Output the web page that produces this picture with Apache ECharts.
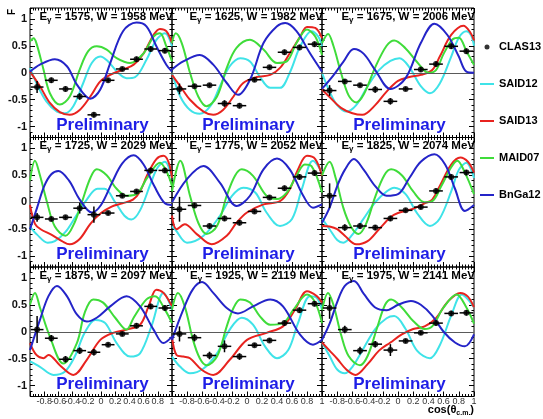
<!DOCTYPE html>
<html><head><meta charset="utf-8">
<script src="https://cdn.jsdelivr.net/npm/echarts@6/dist/echarts.min.js"></script>
<style>html,body{margin:0;padding:0;background:#fff}#c{width:543px;height:419px}</style>
</head><body><div id="c"></div>
<script>
// ---- panel labels ----
const E_GAMMA = [1575,1625,1675,1725,1775,1825,1875,1925,1975];
const W_MEV   = [1958,1982,2006,2029,2052,2074,2097,2119,2141];
// ---- tick values ----
const Y_MAJOR = [-1,-0.5,0,0.5,1];
const Y_MINOR = [-1.2,-1.1,-1,-0.9,-0.8,-0.7,-0.6,-0.5,-0.4,-0.3,-0.2,-0.1,0,0.1,0.2,0.3,0.4,0.5,0.6,0.7,0.8,0.9,1,1.1,1.2];
// ---- CLAS13 data [cos, F, dF] ----
const CLAS13_XERR = 0.09;
const CLAS13 = [
 [[-0.9,-0.265,0.11],[-0.7,-0.14,0.05],[-0.5,-0.30,0.05],[-0.3,-0.44,0.06],[-0.1,-0.78,0.05],[0.1,-0.14,0.04],[0.3,0.07,0.04],[0.5,0.25,0.05],[0.7,0.44,0.05],[0.9,0.41,0.05]],
 [[-0.9,-0.30,0.10],[-0.7,-0.25,0.04],[-0.5,-0.23,0.04],[-0.3,-0.57,0.06],[-0.1,-0.61,0.05],[0.1,-0.13,0.04],[0.3,0.10,0.04],[0.5,0.38,0.05],[0.7,0.47,0.05],[0.9,0.53,0.05]],
 [[-0.9,-0.33,0.10],[-0.7,-0.16,0.04],[-0.5,-0.23,0.04],[-0.3,-0.31,0.06],[-0.1,-0.53,0.06],[0.1,-0.30,0.04],[0.3,0.06,0.04],[0.5,0.16,0.05],[0.7,0.49,0.05],[0.9,0.40,0.05]],
 [[-0.9,-0.28,0.08],[-0.7,-0.31,0.04],[-0.5,-0.28,0.04],[-0.3,-0.11,0.10],[-0.1,-0.23,0.15],[0.1,-0.20,0.04],[0.3,0.12,0.04],[0.5,0.20,0.04],[0.7,0.59,0.05],[0.9,0.59,0.05]],
 [[-0.9,-0.13,0.23],[-0.7,-0.06,0.05],[-0.5,-0.44,0.05],[-0.3,-0.30,0.05],[-0.1,-0.38,0.05],[0.1,-0.17,0.04],[0.3,0.09,0.04],[0.5,0.26,0.05],[0.7,0.47,0.05],[0.9,0.54,0.05]],
 [[-0.9,0.12,0.23],[-0.7,-0.47,0.06],[-0.5,-0.44,0.05],[-0.3,-0.47,0.05],[-0.1,-0.30,0.05],[0.1,-0.15,0.04],[0.3,-0.09,0.04],[0.5,0.21,0.05],[0.7,0.47,0.05],[0.9,0.55,0.05]],
 [[-0.9,0.04,0.25],[-0.7,-0.12,0.06],[-0.5,-0.51,0.06],[-0.3,-0.35,0.06],[-0.1,-0.38,0.06],[0.1,-0.24,0.04],[0.3,-0.04,0.04],[0.5,0.11,0.05],[0.7,0.47,0.05],[0.9,0.44,0.05]],
 [[-0.9,-0.04,0.14],[-0.7,-0.11,0.07],[-0.5,-0.44,0.07],[-0.3,-0.27,0.11],[-0.1,-0.46,0.06],[0.1,-0.25,0.04],[0.3,-0.16,0.04],[0.5,0.16,0.05],[0.7,0.40,0.05],[0.9,0.52,0.05]],
 [[-0.9,0.44,0.20],[-0.7,0.04,0.07],[-0.5,-0.35,0.07],[-0.3,-0.23,0.06],[-0.1,-0.34,0.11],[0.1,-0.17,0.04],[0.3,-0.02,0.04],[0.5,0.16,0.05],[0.7,0.34,0.05],[0.9,0.35,0.05]]
];
// ---- model curves [cos, F] ----
const SAID12 = [
 [[-1,0.09],[-0.91,-0.19],[-0.77,-0.53],[-0.62,-0.72],[-0.51,-0.75],[-0.39,-0.62],[-0.25,-0.19],[-0.13,0.18],[-0.01,0.30],[0.10,0.21],[0.24,0.0],[0.36,-0.10],[0.48,-0.08],[0.64,0.24],[0.78,0.61],[0.90,0.73],[1,0.49]],
 [[-1,0],[-0.89,-0.44],[-0.76,-0.69],[-0.63,-0.76],[-0.49,-0.62],[-0.36,-0.25],[-0.23,0.12],[-0.09,0.27],[0.04,0.21],[0.17,-0.07],[0.31,-0.28],[0.44,-0.28],[0.57,0.0],[0.71,0.49],[0.86,0.77],[0.95,0.67],[1,0.49]],
 [[-1,0.0],[-0.9,-0.35],[-0.8,-0.6],[-0.68,-0.72],[-0.55,-0.6],[-0.4,-0.25],[-0.25,0.05],[-0.1,0.22],[0.02,0.27],[0.15,0.1],[0.3,-0.25],[0.42,-0.38],[0.55,-0.2],[0.7,0.3],[0.8,0.65],[0.9,0.77],[0.96,0.7],[1.0,0.5]],
 [[-1,-0.45],[-0.9,-0.6],[-0.75,-0.75],[-0.65,-0.72],[-0.5,-0.55],[-0.35,-0.25],[-0.2,0.05],[-0.05,0.25],[0.05,0.25],[0.2,0.0],[0.33,-0.25],[0.43,-0.32],[0.55,-0.15],[0.7,0.35],[0.8,0.65],[0.9,0.75],[1.0,0.45]],
 [[-1,-0.45],[-0.96,-0.5],[-0.80,-0.75],[-0.58,-0.62],[-0.36,-0.25],[-0.20,0.12],[-0.05,0.27],[0.11,0.18],[0.26,-0.19],[0.44,-0.44],[0.60,-0.31],[0.73,0.24],[0.88,0.77],[1.0,0.55]],
 [[-1,-0.3],[-0.9,-0.5],[-0.8,-0.7],[-0.72,-0.75],[-0.6,-0.6],[-0.45,-0.3],[-0.3,0.0],[-0.15,0.2],[-0.05,0.27],[0.1,0.15],[0.25,-0.2],[0.42,-0.44],[0.55,-0.3],[0.7,0.2],[0.8,0.6],[0.9,0.73],[1.0,0.45]],
 [[-1,-0.55],[-0.86,-0.65],[-0.67,-0.80],[-0.51,-0.74],[-0.37,-0.46],[-0.23,-0.02],[-0.08,0.22],[0.06,0.16],[0.22,-0.21],[0.41,-0.46],[0.55,-0.40],[0.71,0.10],[0.88,0.72],[1,0.41]],
 [[-1,-0.46],[-0.89,-0.65],[-0.76,-0.77],[-0.58,-0.68],[-0.40,-0.40],[-0.23,0.04],[-0.07,0.26],[0.08,0.13],[0.24,-0.27],[0.40,-0.49],[0.55,-0.34],[0.68,0.16],[0.84,0.66],[0.93,0.63],[1,0.41]],
 [[-1,-0.2],[-0.9,-0.45],[-0.8,-0.7],[-0.7,-0.77],[-0.6,-0.65],[-0.45,-0.3],[-0.3,0.05],[-0.15,0.25],[-0.05,0.29],[0.1,0.05],[0.25,-0.35],[0.42,-0.49],[0.55,-0.25],[0.7,0.3],[0.84,0.69],[0.92,0.6],[1.0,0.45]]
];
const SAID13 = [
 [[-1,0.02],[-0.86,-0.25],[-0.72,-0.56],[-0.58,-0.73],[-0.44,-0.78],[-0.30,-0.69],[-0.15,-0.44],[-0.01,-0.16],[0.13,-0.04],[0.31,0.06],[0.46,0.15],[0.60,0.36],[0.74,0.70],[0.83,0.81],[0.92,0.77],[1,0.55]],
 [[-1,-0.04],[-0.89,-0.25],[-0.76,-0.50],[-0.58,-0.72],[-0.45,-0.78],[-0.32,-0.69],[-0.18,-0.44],[-0.05,-0.19],[0.13,-0.08],[0.31,-0.04],[0.44,0.09],[0.57,0.36],[0.71,0.67],[0.80,0.85],[0.91,0.83],[1,0.64]],
 [[-1,-0.31],[-0.9,-0.45],[-0.75,-0.65],[-0.6,-0.75],[-0.47,-0.78],[-0.3,-0.6],[-0.15,-0.35],[0.0,-0.15],[0.15,-0.08],[0.3,-0.04],[0.45,0.05],[0.55,0.3],[0.7,0.7],[0.86,0.87],[0.95,0.75],[1.0,0.6]],
 [[-1,-0.05],[-0.93,-0.4],[-0.85,-0.5],[-0.7,-0.6],[-0.55,-0.72],[-0.44,-0.78],[-0.3,-0.68],[-0.15,-0.4],[0.0,-0.2],[0.15,-0.08],[0.3,-0.02],[0.45,0.05],[0.55,0.2],[0.65,0.5],[0.78,0.8],[0.88,0.86],[0.95,0.75],[1.0,0.45]],
 [[-1,-0.25],[-0.94,-0.5],[-0.83,-0.41],[-0.67,-0.59],[-0.47,-0.78],[-0.27,-0.62],[-0.14,-0.38],[0,-0.19],[0.22,-0.04],[0.44,0.02],[0.57,0.24],[0.68,0.61],[0.80,0.86],[0.91,0.80],[1.0,0.49]],
 [[-1,-0.44],[-0.9,-0.45],[-0.8,-0.5],[-0.7,-0.62],[-0.55,-0.78],[-0.4,-0.72],[-0.25,-0.5],[-0.1,-0.28],[0.0,-0.2],[0.2,-0.12],[0.35,-0.02],[0.45,0.05],[0.55,0.3],[0.7,0.7],[0.82,0.83],[0.92,0.75],[1.0,0.55]],
 [[-1,-0.21],[-0.91,-0.43],[-0.81,-0.49],[-0.74,-0.43],[-0.58,-0.62],[-0.39,-0.80],[-0.20,-0.52],[-0.01,-0.15],[0.17,-0.02],[0.36,0.04],[0.55,0.13],[0.67,0.47],[0.78,0.78],[0.88,0.72],[1,0.47]],
 [[-1,-0.09],[-0.94,-0.43],[-0.85,-0.46],[-0.76,-0.49],[-0.60,-0.71],[-0.45,-0.80],[-0.23,-0.52],[0,-0.15],[0.26,-0.02],[0.48,0.10],[0.64,0.41],[0.80,0.75],[0.93,0.66],[1,0.54]],
 [[-1,-0.2],[-0.9,-0.35],[-0.8,-0.5],[-0.68,-0.7],[-0.56,-0.8],[-0.4,-0.6],[-0.25,-0.35],[-0.1,-0.2],[0.05,-0.05],[0.2,0.05],[0.35,0.1],[0.5,0.25],[0.65,0.55],[0.82,0.72],[0.92,0.65],[1.0,0.45]]
];
const MAID07 = [
 [[-1,0.58],[-0.95,0.64],[-0.91,0.55],[-0.81,0.06],[-0.72,-0.38],[-0.58,-0.59],[-0.44,-0.44],[-0.30,0.06],[-0.18,0.40],[-0.06,0.49],[0.08,0.43],[0.22,0.27],[0.41,0.18],[0.60,0.36],[0.74,0.67],[0.83,0.73],[0.92,0.49],[1,0.21]],
 [[-1,0.55],[-0.95,0.73],[-0.87,0.55],[-0.76,0.0],[-0.65,-0.44],[-0.54,-0.62],[-0.40,-0.44],[-0.27,0.09],[-0.14,0.46],[0.04,0.61],[0.22,0.43],[0.40,0.18],[0.53,0.21],[0.66,0.55],[0.80,0.80],[0.91,0.67],[1,0.33]],
 [[-1,0.55],[-0.92,0.72],[-0.85,0.5],[-0.75,0.0],[-0.65,-0.42],[-0.55,-0.55],[-0.45,-0.4],[-0.3,0.1],[-0.15,0.5],[-0.05,0.6],[0.1,0.45],[0.25,0.2],[0.4,0.0],[0.5,0.05],[0.6,0.35],[0.72,0.62],[0.8,0.65],[0.9,0.4],[1.0,0.15]],
 [[-1,0.4],[-0.93,0.77],[-0.86,0.5],[-0.76,0.0],[-0.65,-0.45],[-0.5,-0.62],[-0.38,-0.4],[-0.27,0.0],[-0.15,0.45],[-0.06,0.61],[0.08,0.5],[0.22,0.25],[0.36,0.12],[0.5,0.15],[0.65,0.45],[0.83,0.73],[0.93,0.55],[1,0.3]],
 [[-1,0.2],[-0.89,0.77],[-0.76,0.12],[-0.65,-0.38],[-0.54,-0.59],[-0.40,-0.44],[-0.27,0.12],[-0.16,0.49],[-0.07,0.61],[0.08,0.49],[0.26,0.12],[0.40,0.06],[0.53,0.18],[0.66,0.49],[0.77,0.70],[0.86,0.67],[1.0,0.18]],
 [[-1,0.5],[-0.9,0.75],[-0.82,0.45],[-0.72,-0.1],[-0.62,-0.45],[-0.52,-0.59],[-0.42,-0.4],[-0.3,0.1],[-0.18,0.5],[-0.09,0.61],[0.05,0.5],[0.2,0.2],[0.35,0.0],[0.45,0.02],[0.57,0.3],[0.7,0.65],[0.78,0.77],[0.88,0.55],[1.0,0.15]],
 [[-1,0.5],[-0.93,0.72],[-0.86,0.45],[-0.72,-0.09],[-0.53,-0.59],[-0.34,-0.21],[-0.23,0.35],[-0.11,0.60],[0.03,0.54],[0.20,0.26],[0.36,0.04],[0.46,0.26],[0.64,0.60],[0.76,0.66],[0.90,0.41],[1,0.16]],
 [[-1,0.41],[-0.92,0.72],[-0.83,0.47],[-0.72,-0.15],[-0.63,-0.49],[-0.54,-0.62],[-0.40,-0.46],[-0.27,0.10],[-0.18,0.44],[-0.09,0.60],[0.04,0.54],[0.17,0.29],[0.31,0.13],[0.48,0.16],[0.62,0.41],[0.80,0.69],[0.91,0.54],[1,0.16]],
 [[-1,0.4],[-0.92,0.72],[-0.85,0.5],[-0.75,-0.05],[-0.65,-0.45],[-0.5,-0.62],[-0.4,-0.45],[-0.28,0.05],[-0.17,0.5],[-0.09,0.6],[0.05,0.45],[0.2,0.2],[0.35,0.05],[0.45,0.1],[0.6,0.45],[0.77,0.69],[0.9,0.45],[1.0,0.15]]
];
const BNGA12 = [
 [[-1,0.02],[-0.86,0.15],[-0.65,0.25],[-0.48,0.12],[-0.34,-0.22],[-0.15,-0.48],[-0.01,-0.31],[0.13,0.18],[0.31,0.77],[0.50,0.93],[0.64,0.86],[0.78,0.49],[0.92,0.15],[1,0.02]],
 [[-1,0.06],[-0.85,0.21],[-0.63,0.33],[-0.45,0.15],[-0.27,-0.19],[-0.12,-0.41],[0.04,-0.13],[0.22,0.55],[0.40,0.86],[0.51,0.92],[0.66,0.77],[0.84,0.36],[1,0.02]],
 [[-1,-0.3],[-0.85,-0.05],[-0.72,0.2],[-0.58,0.44],[-0.45,0.35],[-0.3,0.05],[-0.1,-0.3],[0.1,-0.1],[0.3,0.55],[0.48,0.91],[0.65,0.7],[0.8,0.3],[0.9,0.02],[1.0,0.0]],
 [[-1,-0.5],[-0.9,-0.1],[-0.8,0.3],[-0.7,0.52],[-0.6,0.58],[-0.45,0.4],[-0.3,0.05],[-0.13,-0.19],[0.0,-0.05],[0.15,0.35],[0.3,0.72],[0.46,0.87],[0.6,0.7],[0.75,0.3],[0.9,-0.02],[1.0,-0.05]],
 [[-1,0],[-0.80,0.43],[-0.58,0.67],[-0.36,0.36],[-0.14,-0.07],[0.04,0.12],[0.22,0.61],[0.40,0.81],[0.57,0.61],[0.75,0.12],[0.88,-0.10],[1.0,-0.04]],
 [[-1,-0.38],[-0.9,-0.1],[-0.8,0.3],[-0.7,0.6],[-0.58,0.8],[-0.45,0.6],[-0.3,0.3],[-0.15,0.12],[0.0,0.15],[0.15,0.45],[0.3,0.75],[0.48,0.89],[0.62,0.7],[0.75,0.25],[0.88,-0.16],[1.0,-0.05]],
 [[-1,-0.34],[-0.86,0.22],[-0.74,0.66],[-0.62,0.85],[-0.48,0.66],[-0.34,0.32],[-0.20,0.19],[-0.06,0.26],[0.13,0.47],[0.36,0.66],[0.55,0.47],[0.74,0.04],[0.88,-0.21],[1,-0.09]],
 [[-1,-0.15],[-0.85,0.41],[-0.72,0.79],[-0.60,0.92],[-0.45,0.72],[-0.27,0.44],[-0.12,0.34],[0.08,0.47],[0.31,0.60],[0.48,0.47],[0.71,-0.06],[0.88,-0.24],[1,-0.15]],
 [[-1,-0.15],[-0.9,0.15],[-0.8,0.55],[-0.7,0.85],[-0.58,0.94],[-0.45,0.7],[-0.3,0.45],[-0.15,0.4],[0.0,0.5],[0.17,0.57],[0.3,0.5],[0.45,0.3],[0.6,0.0],[0.75,-0.2],[0.88,-0.27],[1.0,-0.05]]
];

// ---- layout / style ----
const FONT = 'Liberation Sans, Arial, sans-serif';
const COL_LEFT = [30,172,322], COL_W = [142,150,152];
const ROW_TOP = [8,137.5,267], ROW_H = 129.5;
const MODELS = [
  {name:'SAID12', data:SAID12, color:'#3fe3e8'},
  {name:'SAID13', data:SAID13, color:'#e8231f'},
  {name:'MAID07', data:MAID07, color:'#3fdc3a'},
  {name:'BnGa12', data:BNGA12, color:'#2424c8'}
];
const LINE_ICON = 'path://M0,0H14V2H0Z';

const grids=[], xAxis=[], yAxis=[], series=[], titles=[];
for (let p=0;p<9;p++){
  const r=Math.floor(p/3), c=p%3;
  grids.push({left:COL_LEFT[c], top:ROW_TOP[r], width:COL_W[c], height:ROW_H, show:true,
    borderColor:'#000', borderWidth:1, backgroundColor:'transparent', containLabel:false, outerBoundsMode:'none'});
  const xi=xAxis.length;
  const xc={type:'value', gridIndex:p, min:-1, max:1, interval:0.2, axisLine:{show:false,onZero:false},
    splitLine:{show:false}, axisTick:{show:true,inside:true,length:5,lineStyle:{color:'#000',width:1}},
    minorTick:{show:true,splitNumber:5,length:2.5,lineStyle:{color:'#000',width:1}}};
  xAxis.push(Object.assign({}, xc, {position:'bottom', axisLabel:{show:r===2, margin:1, fontSize:9, color:'#333', fontFamily:FONT,
    formatter:v=>Math.abs(v+1)<1e-9?'':String(+v.toFixed(1))}}));
  xAxis.push(Object.assign({}, xc, {position:'top', axisLabel:{show:false}}));
  const yi=yAxis.length;
  const yc={type:'value', gridIndex:p, min:-1.2, max:1.2, axisLine:{show:false,onZero:false}, splitLine:{show:false}};
  ['left','right'].forEach(pos=>{
    yAxis.push(Object.assign({}, yc, {position:pos,
      axisTick:{show:true,inside:true,length:5,customValues:Y_MAJOR,lineStyle:{color:'#000',width:1}},
      axisLabel:{show:pos==='left'&&c===0, customValues:Y_MAJOR, margin:3, fontSize:11, fontWeight:'bold', color:'#111', fontFamily:FONT}}));
    yAxis.push(Object.assign({}, yc, {position:pos,
      axisTick:{show:true,inside:true,length:2.5,customValues:Y_MINOR,lineStyle:{color:'#000',width:1}},
      axisLabel:{show:false}}));
  });
  MODELS.forEach((m,k)=>{
    const s={name:m.name, type:'line', xAxisIndex:xi, yAxisIndex:yi, data:m.data[p], smooth:0.35,
      symbol:'none', showSymbol:false, lineStyle:{color:m.color,width:2}, itemStyle:{color:m.color}, silent:true, z:2+k, animation:false};
    if(k===0){ s.markLine={silent:true, symbol:'none', label:{show:false}, animation:false,
      lineStyle:{color:'#5a5a5a',width:1.2,type:'solid'}, data:[{yAxis:0}]}; }
    series.push(s);
  });
  series.push({type:'custom', xAxisIndex:xi, yAxisIndex:yi, data:CLAS13[p], z:8, silent:true, animation:false,
    encode:{x:0,y:1},
    renderItem:(params,api)=>{
      const x=api.value(0), y=api.value(1), e=api.value(2);
      const a=api.coord([x,y+e]), b=api.coord([x,y-e]);
      const l=api.coord([x-CLAS13_XERR,y]), rr=api.coord([x+CLAS13_XERR,y]);
      return {type:'group', children:[
        {type:'line', shape:{x1:a[0],y1:a[1],x2:b[0],y2:b[1]}, style:{stroke:'#000',lineWidth:1.5}},
        {type:'line', shape:{x1:l[0],y1:l[1],x2:rr[0],y2:rr[1]}, style:{stroke:'#000',lineWidth:1.5}}
      ]};
    }});
  series.push({name:'CLAS13', type:'scatter', xAxisIndex:xi, yAxisIndex:yi, data:CLAS13[p].map(d=>[d[0],d[1]]),
    symbol:'circle', symbolSize:6, itemStyle:{color:'#000'}, z:9, silent:true, animation:false});
  titles.push({text:'E{s|γ} = '+E_GAMMA[p]+', W = '+W_MEV[p]+' MeV', left:COL_LEFT[c]+COL_W[c]+1, top:ROW_TOP[r]+1.5, textAlign:'right', padding:0,
    textStyle:{fontSize:11.5, fontWeight:'bold', color:'#000', fontFamily:FONT, lineHeight:14,
      rich:{s:{fontSize:8, fontWeight:'bold', color:'#000', fontFamily:FONT, lineHeight:8, padding:[6,0,0,0]}}}});
  titles.push({text:'Preliminary', left:COL_LEFT[c]+COL_W[c]/2+1.5, top:ROW_TOP[r]+107, textAlign:'center', padding:0,
    textStyle:{fontSize:17, fontWeight:'bold', color:'#1e1ee6', fontFamily:FONT, lineHeight:20}});
}

const chart=echarts.init(document.getElementById('c'));
chart.setOption({
  animation:false,
  backgroundColor:'#fff',
  textStyle:{fontFamily:FONT},
  grid:grids, xAxis:xAxis, yAxis:yAxis, series:series, title:titles,
  legend:{orient:'vertical', left:480, top:41.5, padding:0, itemWidth:14, itemHeight:5, itemGap:26, selectedMode:false,
    textStyle:{fontSize:11, fontWeight:'bold', color:'#000', fontFamily:FONT, lineHeight:11},
    data:[{name:'CLAS13',icon:'circle'},{name:'SAID12',icon:LINE_ICON},{name:'SAID13',icon:LINE_ICON},
          {name:'MAID07',icon:LINE_ICON},{name:'BnGa12',icon:LINE_ICON}]},
  graphic:[
    {type:'text', x:12.5, y:12, rotation:Math.PI/2, silent:true,
      style:{text:'F', font:'bold 10px '+FONT, fill:'#000', align:'center', verticalAlign:'middle'}},
    {type:'text', x:474, y:410, silent:true,
      style:{text:'cos(θ{s|c.m.})', font:'bold 11px '+FONT, fill:'#000', align:'right', verticalAlign:'middle',
        rich:{s:{fontSize:7, fontWeight:'bold', fontFamily:FONT, fill:'#000', padding:[6,0,0,0], lineHeight:7}}}}
  ]
});
</script></body></html>
